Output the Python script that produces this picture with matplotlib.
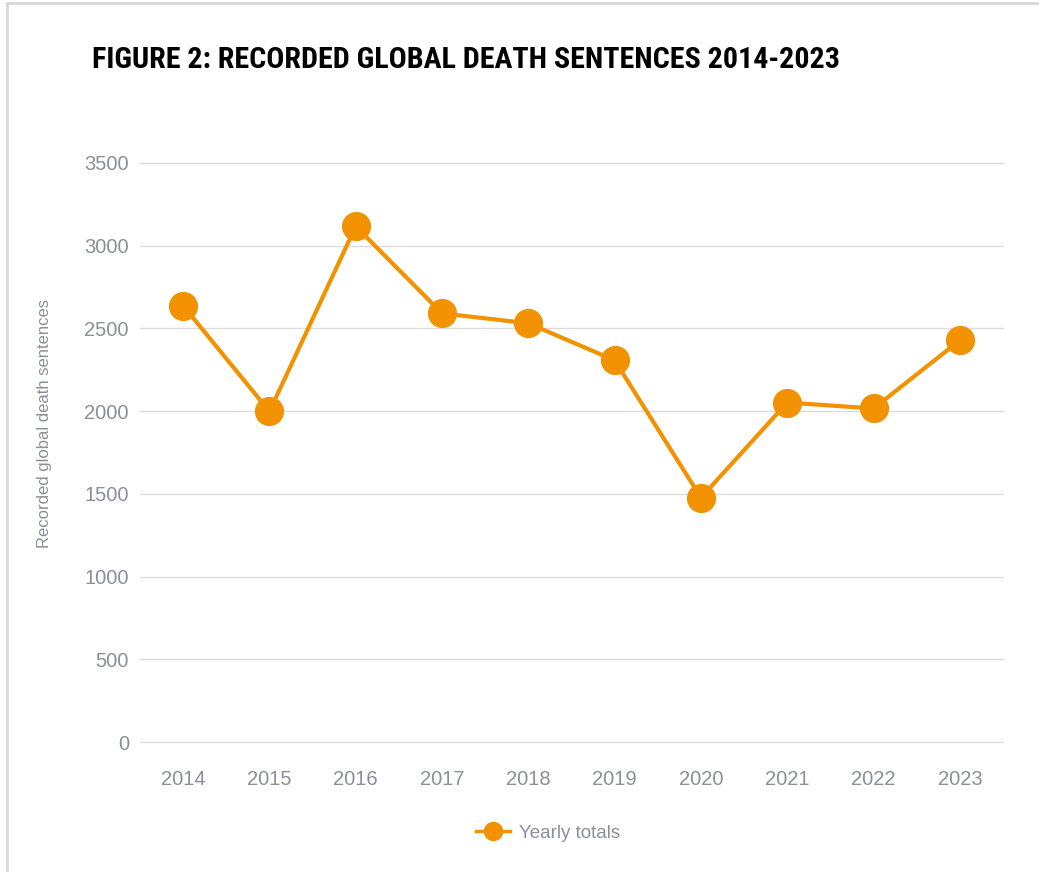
import matplotlib
matplotlib.use("Agg")
import matplotlib.pyplot as plt
from matplotlib.lines import Line2D
from matplotlib import font_manager

years = ["2014", "2015", "2016", "2017", "2018", "2019", "2020", "2021", "2022", "2023"]
totals = [2637, 1998, 3117, 2591, 2531, 2307, 1477, 2052, 2016, 2428]
yticks = [0, 500, 1000, 1500, 2000, 2500, 3000, 3500]
series_name = "Yearly totals"
title = "FIGURE 2: RECORDED GLOBAL DEATH SENTENCES 2014-2023"
ylabel = "Recorded global death sentences"

W, H = 1039, 872
fig = plt.figure(figsize=(W / 100, H / 100), dpi=100)
fig.patch.set_facecolor("white")

fl = font_manager.fontManager.ttflist
names = {f.name for f in fl}
title_kw = None
for cand in ["Liberation Sans Narrow", "Roboto Condensed", "Open Sans Condensed"]:
    if cand in names:
        title_kw = dict(family=cand, fontstretch="normal")
        break
if title_kw is None:
    if any(f.name == "DejaVu Sans" and f.stretch == "condensed" and f.weight in ("bold", 700) for f in fl):
        title_kw = dict(family="DejaVu Sans", fontstretch="condensed")
    else:
        title_kw = dict(family="Liberation Sans", fontstretch="normal")
body_font = "Liberation Sans"

orange = "#F39200"
grey = "#8A8F99"
gridc = "#DCDCDC"

ax = fig.add_axes([140 / W, 1 - 742 / H, (1003 - 140) / W, (742 - 163) / H])
x = list(range(len(years)))
ax.plot(x, totals, color=orange, lw=3, marker="o", markersize=20,
        markerfacecolor=orange, markeredgecolor=orange, label=series_name, zorder=3)
ax.set_xlim(-0.5, len(years) - 0.5)
ax.set_ylim(0, 3500)
ax.set_yticks(yticks)
ax.set_yticklabels([str(v) for v in yticks])
ax.set_xticks(x)
ax.set_xticklabels(years)
for s in ax.spines.values():
    s.set_visible(False)
ax.grid(axis="y", color=gridc, lw=1)
for gl in ax.get_ygridlines():
    gl.set_clip_on(False)
ax.set_axisbelow(True)
ax.tick_params(axis="both", length=0, colors=grey, labelsize=14.5)
ax.tick_params(axis="x", pad=20)
ax.tick_params(axis="y", pad=8)
for lab in ax.get_xticklabels() + ax.get_yticklabels():
    lab.set_fontfamily(body_font)
    lab.set_color(grey)

fig.text(45 / W, 1 - 424 / H, ylabel, rotation=90, ha="center", va="center",
         color=grey, fontsize=12, family=body_font)

# title: fit to the reference width (92..842 px)
t = fig.text(92 / W, 1 - 60 / H, title, ha="left", va="center", fontsize=28,
             fontweight="bold", color="black", **title_kw)
fig.canvas.draw()
bb = t.get_window_extent(renderer=fig.canvas.get_renderer())
target = 842 - 92
if bb.width > 0:
    t.set_fontsize(28 * target / bb.width)

handle = Line2D([], [], color=orange, lw=2.5, marker="o", markersize=13,
                markerfacecolor=orange, markeredgecolor=orange)
leg = fig.legend([handle], [series_name], loc="center",
                 bbox_to_anchor=(548 / W, 1 - 833 / H), frameon=False,
                 prop={"family": body_font, "size": 13.5}, handlelength=1.8,
                 handletextpad=0.5)
for tx in leg.get_texts():
    tx.set_color(grey)

fig.add_artist(Line2D([7 / W, 7 / W], [0, 1 - 3 / H], transform=fig.transFigure,
                      color="#D8D8D8", lw=2))
fig.add_artist(Line2D([7 / W, 1], [1 - 3 / H, 1 - 3 / H], transform=fig.transFigure,
                      color="#D8D8D8", lw=2))

fig.savefig("out.png", dpi=100, facecolor="white")
